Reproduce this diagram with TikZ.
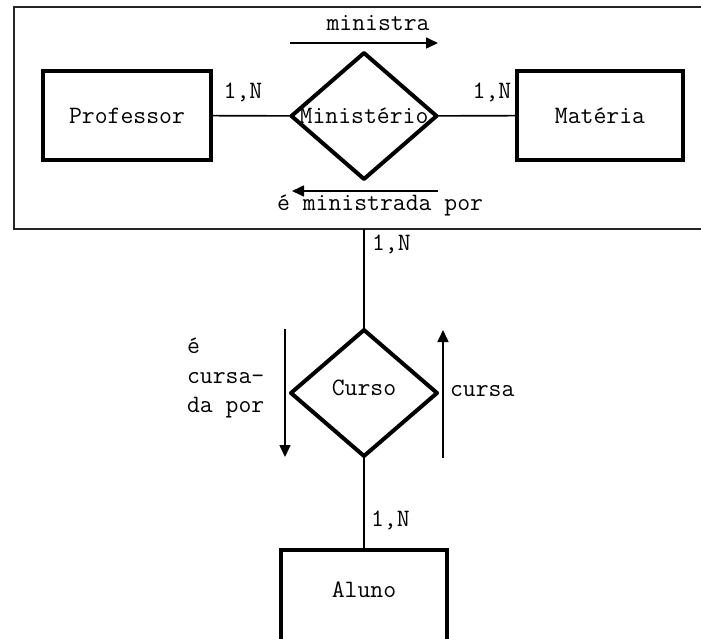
\documentclass[tikz,border=0pt]{standalone}
\usepackage{fontspec}
\usetikzlibrary{shapes.geometric,arrows.meta}
\begin{document}
\begin{tikzpicture}[x=1pt,y=-1pt,
  every node/.style={font=\ttfamily\fontsize{25}{29.5}\selectfont, inner sep=0pt, outer sep=0pt},
  entity/.style={draw, line width=3.5pt, rectangle, minimum width=166pt, minimum height=89pt},
  rel/.style={draw, line width=4pt, line join=round, diamond, minimum width=145pt, minimum height=126pt},
  frame/.style={draw=black!85, line width=1.6pt, rectangle},
  link/.style={line width=1.6pt},
  dirarrow/.style={line width=1.6pt, -{Triangle[length=12pt,width=11pt]}}]
\useasboundingbox (0,0) rectangle (701,638);
\begin{scope}
\clip (0,0) rectangle (701,638);

% aggregation frame around Professor--Ministerio--Materia
\node[frame, minimum width=696pt, minimum height=222pt] (agg) at (362,118) {};

% entities
\node[entity, minimum width=168pt] (prof) at (127,115.5) {Professor};
\node[entity] (mat) at (600,115.5) {Matéria};
\node[entity, minimum height=110pt] (aluno) at (364,605) {};
\node at (364,590) {Aluno};

% relationships
\node[rel] (min) at (364,116) {};
\node at (min) {Ministério};
\node[rel, minimum width=146pt] (curso) at (364,393) {};
\node at (364,388) {Curso};

% connectors
\draw[link] (prof) -- (min);
\draw[link] (min) -- (mat);
\draw[link] (curso.north |- agg.south) -- (curso.north);
\draw[link] (curso.south) -- (aluno.north);

% cardinalities
\node at (243,92) {1,N};
\node at (492,92) {1,N};
\node[anchor=west] at (372,244) {1,N};
\node[anchor=west] at (371,520) {1,N};

% reading directions
\coordinate (m1) at (290,43);   \coordinate (m2) at (438,43);
\coordinate (p1) at (438,191);  \coordinate (p2) at (292,191);
\coordinate (c1) at (285,329);  \coordinate (c2) at (285,457);
\coordinate (d1) at (443,458);  \coordinate (d2) at (443,330);
\draw[dirarrow] (m1) -- (m2);
\draw[dirarrow] (p1) -- (p2);
\draw[dirarrow] (c1) -- (c2);
\draw[dirarrow] (d1) -- (d2);

\node at (378,23) {ministra};
\node[anchor=west] at (277,205) {é ministrada por};
\node[anchor=west, align=left] at (187,378) {é\\cursa-\\da por};
\node[anchor=west] at (450,391) {cursa};
\end{scope}
\end{tikzpicture}
\end{document}
